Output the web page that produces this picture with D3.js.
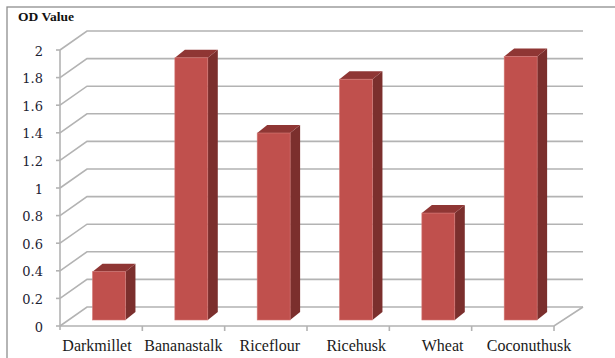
<!DOCTYPE html>
<html>
<head>
<meta charset="utf-8">
<script src="https://cdn.jsdelivr.net/npm/d3@7"></script>
<style>
  html, body { margin: 0; padding: 0; background: #fff; }
  svg { display: block; }
</style>
</head>
<body>
<svg id="chart" width="615" height="358"></svg>
<script>
// OD readings per substrate
const categories = ["Darkmillet", "Bananastalk", "Riceflour", "Ricehusk", "Wheat", "Coconuthusk"];
const odValues = [0.35, 1.90, 1.355, 1.745, 0.775, 1.91];
const yTicks = [0, 0.2, 0.4, 0.6, 0.8, 1, 1.2, 1.4, 1.6, 1.8, 2];
const yTickLabels = ["0", "0.2", "0.4", "0.6", "0.8", "1", "1.2", "1.4", "1.6", "1.8", "2"];

const svg = d3.select("#chart");

// 3-D geometry: floor depth offset and bar depth
const floorX0 = 60, floorX1 = 554, floorY = 326;
const depthDx = 27, depthDy = -19;
const barShiftY = -6;           // bar front plane sits a little behind the floor edge
const barDx = 10, barDy = -8;   // bar depth

const x = d3.scaleBand().domain(categories).range([floorX0, floorX1]).paddingInner(0).paddingOuter(0);
const y = d3.scaleLinear().domain([0, 2]).range([floorY, 50]);
const labelX = d3.scalePoint().domain(categories).range([97, 529]);

// chart frame
svg.append("rect")
  .attr("x", 7).attr("y", 7).attr("width", 640).attr("height", 380)
  .attr("fill", "none").attr("stroke", "#8e8e8e").attr("stroke-width", 1.3);

// title
svg.append("text")
  .attr("x", 18).attr("y", 21)
  .attr("font-family", "Liberation Serif, Times New Roman, serif")
  .attr("font-weight", "bold").attr("font-size", 13.5)
  .attr("fill", "#111")
  .text("OD Value");

const gridColor = "#b3b3b3";

// gridlines: left wall diagonal + back wall horizontal
svg.append("g").selectAll("path").data(yTicks).join("path")
  .attr("d", t => {
    const yy = y(t);
    return `M${floorX0},${yy}L${floorX0 + depthDx},${yy + depthDy}L${floorX1 + depthDx + 2},${yy + depthDy}`;
  })
  .attr("fill", "none").attr("stroke", gridColor).attr("stroke-width", 1.6);

// floor front edge and right edge
svg.append("path")
  .attr("d", `M${floorX0},${floorY}L${floorX1},${floorY}L${floorX1 + depthDx + 2},${floorY + depthDy}`)
  .attr("fill", "none").attr("stroke", gridColor).attr("stroke-width", 1.6);

// value axis line and ticks
svg.append("line")
  .attr("x1", floorX0).attr("x2", floorX0)
  .attr("y1", y(2)).attr("y2", floorY + 4)
  .attr("stroke", gridColor).attr("stroke-width", 1.6);
svg.append("g").selectAll("line").data(yTicks).join("line")
  .attr("x1", floorX0 - 4).attr("x2", floorX0)
  .attr("y1", t => y(t)).attr("y2", t => y(t))
  .attr("stroke", gridColor).attr("stroke-width", 1.6);

// category ticks at band boundaries
svg.append("g").selectAll("line").data(categories).join("line")
  .attr("x1", c => x(c) + x.bandwidth()).attr("x2", c => x(c) + x.bandwidth())
  .attr("y1", floorY).attr("y2", floorY + 5)
  .attr("stroke", gridColor).attr("stroke-width", 1.6);

// value tick labels
svg.append("g").selectAll("text").data(yTicks).join("text")
  .attr("x", 43).attr("y", t => y(t) + 1)
  .attr("dy", "0.35em")
  .attr("text-anchor", "end")
  .attr("font-family", "DejaVu Serif, serif").attr("font-size", 13)
  .attr("fill", "#1c2233")
  .text((t, i) => yTickLabels[i]);

// category labels
svg.append("g").selectAll("text").data(categories).join("text")
  .attr("x", c => labelX(c)).attr("y", 351)
  .attr("text-anchor", "middle")
  .attr("font-family", "Liberation Serif, Times New Roman, serif").attr("font-size", 16)
  .attr("fill", "#1a1a1a")
  .text(c => c);

// 3-D bars
const bars = svg.append("g").selectAll("g").data(categories.map((c, i) => ({ c, v: odValues[i] }))).join("g");
const faceW = d => x.bandwidth() * 0.4;
const faceL = d => x(d.c) + x.bandwidth() * 0.395;
const faceTop = d => y(d.v) + barShiftY;
const faceBot = floorY + barShiftY;

// side face
bars.append("path")
  .attr("d", d => {
    const xr = faceL(d) + faceW(d), t = faceTop(d);
    return `M${xr},${t}L${xr + barDx},${t + barDy}L${xr + barDx},${faceBot + barDy}L${xr},${faceBot}Z`;
  })
  .attr("fill", "#7b2f2d");

// top face
bars.append("path")
  .attr("d", d => {
    const xl = faceL(d), xr = xl + faceW(d), t = faceTop(d);
    return `M${xl},${t}L${xl + barDx},${t + barDy}L${xr + barDx},${t + barDy}L${xr},${t}Z`;
  })
  .attr("fill", "#8f3634");

// front face
bars.append("rect")
  .attr("x", d => faceL(d)).attr("y", d => faceTop(d))
  .attr("width", d => faceW(d)).attr("height", d => faceBot - faceTop(d))
  .attr("fill", "#c0504d")
  .attr("stroke", "#d47a77").attr("stroke-width", 0.6);
</script>
</body>
</html>
